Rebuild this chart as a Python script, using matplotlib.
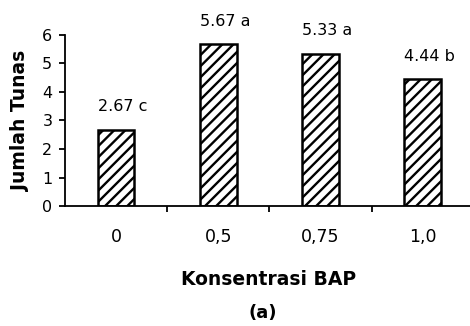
import matplotlib.pyplot as plt
import numpy as np

categories = ["0", "0,5", "0,75", "1,0"]
values = [2.67, 5.67, 5.33, 4.44]
letters = ["c", "a", "a", "b"]

plt.rcParams['font.family'] = ['DejaVu Sans']
plt.rcParams['hatch.linewidth'] = 1.7

fig = plt.figure(figsize=(4.7, 3.26), dpi=100)
ax = fig.add_axes([0.138, 0.368, 0.87, 0.525])

x = np.arange(len(categories))
bars = ax.bar(x, values, width=0.36, color='white', edgecolor='black',
              linewidth=1.8, hatch='///')

# value labels with significance letters
for xi, v, let in zip(x, values, letters):
    ax.text(xi - 0.18, v + 0.65, f"{v:.2f} {let}", ha='left', va='baseline',
            fontsize=11.5)

ax.set_xlim(-0.5, 3.5)
ax.set_ylim(0, 6)
ax.set_yticks(range(0, 7))
ax.set_xticks([0.5, 1.5, 2.5])
ax.set_xticklabels([])
ax.tick_params(axis='x', direction='out', length=4, width=1.3)
ax.tick_params(axis='y', direction='out', length=4, width=1.3, labelsize=11.5,
               pad=5)
for xi, c in zip(x, categories):
    ax.text(xi, -1.1, c, ha='center', va='center', fontsize=12.5)

ax.spines['top'].set_visible(False)
ax.spines['right'].set_visible(False)
ax.spines['left'].set_linewidth(1.3)
ax.spines['bottom'].set_linewidth(1.3)

ax.set_ylabel("Jumlah Tunas", fontsize=13.5, fontweight='bold', labelpad=9)
fig.text(0.572, 0.144, "Konsentrasi BAP", ha='center', va='center',
         fontsize=13.5, fontweight='bold')
fig.text(0.56, 0.04, "(a)", ha='center', va='center', fontsize=13,
         fontweight='bold')

fig.savefig("out.png", dpi=100)
